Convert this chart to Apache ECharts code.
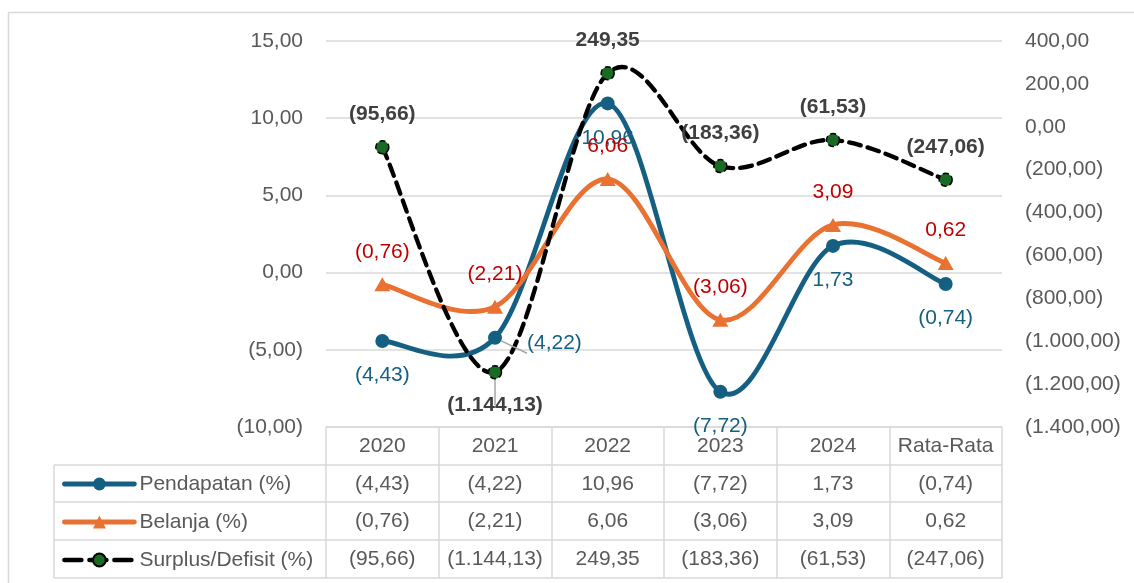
<!DOCTYPE html>
<html>
<head>
<meta charset="utf-8">
<script src="https://cdn.jsdelivr.net/npm/echarts@6/dist/echarts.min.js"></script>
<style>
  html, body { margin: 0; padding: 0; background: #ffffff; }
  #chart { width: 1134px; height: 583px; }
</style>
</head>
<body>
<div id="chart"></div>
<script>
// Growth of revenue, spending and surplus/deficit, 2020-2024 plus average
const categories = ['2020', '2021', '2022', '2023', '2024', 'Rata-Rata'];
const pendapatan = [-4.43, -4.22, 10.96, -7.72, 1.73, -0.74];
const belanja = [-0.76, -2.21, 6.06, -3.06, 3.09, 0.62];
const surplus = [-95.66, -1144.13, 249.35, -183.36, -61.53, -247.06];
const seriesNames = ['Pendapatan (%)', 'Belanja (%)', 'Surplus/Defisit (%)'];

// Indonesian number style: "." thousands, "," decimals, negatives in parentheses
function fmt(v) {
  const parts = Math.abs(v).toFixed(2).split('.');
  const intPart = parts[0].replace(/\B(?=(\d{3})+(?!\d))/g, '.');
  const txt = intPart + ',' + parts[1];
  return v < 0 ? '(' + txt + ')' : txt;
}

const FONT = '"Liberation Sans", Arial, sans-serif';
const TEXT = '#595959';
const RULE = '#d9d9d9';
const BLUE = '#156082';
const ORANGE = '#E97132';
const GREEN = '#196B24';
const LEADER = '#a6a6a6';

// plot area edges
const GL = 326, GR = 1002, GT = 41, GB = 427;
// data-table row edges below the plot (offsets from the x axis line)
const ROW = [0, 38, 75, 113, 151];
const TABLE_LEFT = 54;

function tableAxis(data, offset, tickLen, showLabel) {
  return {
    type: 'category',
    data: data,
    position: 'bottom',
    offset: offset,
    boundaryGap: true,
    axisLine: { show: true, onZero: false, lineStyle: { color: RULE, width: 1.5 } },
    axisTick: { show: tickLen > 0, inside: false, length: tickLen, interval: 0, lineStyle: { color: RULE, width: 1.5 } },
    axisLabel: { show: showLabel, interval: 0, color: TEXT, fontSize: 21, fontFamily: FONT, margin: 9 },
    splitLine: { show: false }
  };
}

// Smoothed curve (cardinal spline, tangent = neighbour difference / 6) laid
// through the points as placed by the axes
function curveSeries(values, yAxisIndex, lineStyle) {
  return {
    type: 'custom',
    xAxisIndex: 0,
    yAxisIndex: yAxisIndex,
    silent: true,
    clip: false,
    encode: { x: 0, y: 1 },
    data: values.map(function (v, i) { return [i, v]; }),
    renderItem: function (params, api) {
      if (params.dataIndex !== 0) return null;
      const pts = values.map(function (v, i) { return api.coord([i, v]); });
      const n = pts.length;
      let d = 'M' + pts[0][0] + ',' + pts[0][1];
      for (let i = 0; i < n - 1; i++) {
        const p0 = pts[Math.max(i - 1, 0)];
        const p1 = pts[i];
        const p2 = pts[i + 1];
        const p3 = pts[Math.min(i + 2, n - 1)];
        const c1x = p1[0] + (p2[0] - p0[0]) / 6;
        const c1y = p1[1] + (p2[1] - p0[1]) / 6;
        const c2x = p2[0] - (p3[0] - p1[0]) / 6;
        const c2y = p2[1] - (p3[1] - p1[1]) / 6;
        d += ' C' + c1x + ',' + c1y + ' ' + c2x + ',' + c2y + ' ' + p2[0] + ',' + p2[1];
      }
      return {
        type: 'path',
        shape: { pathData: d },
        style: Object.assign({ fill: 'none' }, lineStyle)
      };
    }
  };
}

const pendPos = ['bottom', 'right', 'bottom', 'bottom', 'bottom', 'bottom'];
const surPos = ['top', 'bottom', 'top', 'top', 'top', 'top'];

const chart = echarts.init(document.getElementById('chart'), null, { renderer: 'canvas' });

const tableLines = [];
[ROW[1], ROW[2], ROW[3], ROW[4]].forEach(function (o) {
  tableLines.push({
    type: 'line', silent: true,
    shape: { x1: TABLE_LEFT, y1: GB + o, x2: GL, y2: GB + o },
    style: { stroke: RULE, lineWidth: 1.5 }
  });
});
tableLines.push({
  type: 'line', silent: true,
  shape: { x1: TABLE_LEFT, y1: GB + ROW[1], x2: TABLE_LEFT, y2: GB + ROW[4] },
  style: { stroke: RULE, lineWidth: 1.5 }
});

const DASH = [12, 7];

chart.setOption({
  animation: false,
  backgroundColor: '#ffffff',
  grid: { left: GL, right: 1134 - GR, top: GT, bottom: 583 - GB, containLabel: false },
  legend: {
    orient: 'vertical',
    left: 57,
    top: 468,
    itemWidth: 70,
    itemHeight: 16,
    itemGap: 16,
    selectedMode: false,
    textStyle: { color: TEXT, fontSize: 21, fontFamily: FONT, lineHeight: 22 },
    data: [
      { name: seriesNames[0], lineStyle: { color: BLUE, width: 4.8, opacity: 1, type: 'solid', cap: 'round' } },
      { name: seriesNames[1], lineStyle: { color: ORANGE, width: 4.8, opacity: 1, type: 'solid', cap: 'round' } },
      { name: seriesNames[2], lineStyle: { color: '#000000', width: 4.5, opacity: 1, type: [17, 8], cap: 'round' } }
    ]
  },
  xAxis: [
    tableAxis(categories, ROW[0], ROW[1] - ROW[0], true),
    tableAxis(pendapatan.map(fmt), ROW[1], ROW[2] - ROW[1], true),
    tableAxis(belanja.map(fmt), ROW[2], ROW[3] - ROW[2], true),
    tableAxis(surplus.map(fmt), ROW[3], ROW[4] - ROW[3], true),
    tableAxis(categories, ROW[4], 0, false)
  ],
  yAxis: [
    {
      type: 'value', min: -10, max: 15, interval: 5, position: 'left',
      axisLine: { show: false }, axisTick: { show: false },
      axisLabel: { color: TEXT, fontSize: 21, fontFamily: FONT, margin: 23, formatter: fmt },
      splitLine: { show: true, lineStyle: { color: RULE, width: 1.5 } }
    },
    {
      type: 'value', min: -1400, max: 400, interval: 200, position: 'right',
      axisLine: { show: false }, axisTick: { show: false },
      axisLabel: { color: TEXT, fontSize: 21, fontFamily: FONT, margin: 23, formatter: fmt },
      splitLine: { show: false }
    }
  ],
  series: [
    curveSeries(pendapatan, 0, { stroke: BLUE, lineWidth: 4.8, lineCap: 'round', lineJoin: 'round' }),
    curveSeries(belanja, 0, { stroke: ORANGE, lineWidth: 4.8, lineCap: 'round', lineJoin: 'round' }),
    curveSeries(surplus, 1, { stroke: '#000000', lineWidth: 4.3, lineDash: DASH, lineCap: 'round' }),
    {
      name: seriesNames[0], type: 'line', xAxisIndex: 0, yAxisIndex: 0,
      symbol: 'circle', symbolSize: 14,
      lineStyle: { color: BLUE, width: 4.8, opacity: 0 },
      itemStyle: { color: BLUE },
      label: { show: true, color: BLUE, fontSize: 21, fontFamily: FONT, distance: 17,
        formatter: function (p) { return fmt(p.value); } },
      data: pendapatan.map(function (v, i) {
        const item = { value: v, label: { position: pendPos[i] } };
        if (pendPos[i] === 'right') {
          item.label.distance = 25;
          item.label.offset = [0, 5];
          item.labelLine = { show: true, lineStyle: { color: LEADER, width: 1.5 } };
        }
        return item;
      })
    },
    {
      name: seriesNames[1], type: 'line', xAxisIndex: 0, yAxisIndex: 0,
      symbol: 'triangle', symbolSize: [16, 14],
      lineStyle: { color: ORANGE, width: 4.8, opacity: 0 },
      itemStyle: { color: ORANGE },
      label: { show: true, position: 'top', color: '#C00000', fontSize: 21, fontFamily: FONT, distance: 15,
        formatter: function (p) { return fmt(p.value); } },
      data: belanja
    },
    {
      name: seriesNames[2], type: 'line', xAxisIndex: 0, yAxisIndex: 1,
      symbol: 'circle', symbolSize: 13,
      lineStyle: { color: '#000000', width: 4.3, type: DASH, opacity: 0 },
      itemStyle: { color: GREEN, borderColor: '#000000', borderWidth: 1.5, borderType: 'dashed' },
      label: { show: true, color: '#404040', fontSize: 21, fontWeight: 'bold', fontFamily: FONT, distance: 15,
        formatter: function (p) { return fmt(p.value); } },
      data: surplus.map(function (v, i) {
        const item = { value: v, label: { position: surPos[i] } };
        if (surPos[i] === 'bottom') {
          item.labelLine = { show: true, lineStyle: { color: LEADER, width: 1.5 } };
        }
        return item;
      })
    }
  ],
  graphic: [
    {
      type: 'rect', silent: true, z: -10,
      shape: { x: 8.5, y: 12.5, width: 1400, height: 900 },
      style: { fill: null, stroke: RULE, lineWidth: 1.5 }
    }
  ].concat(tableLines)
});
</script>
</body>
</html>
